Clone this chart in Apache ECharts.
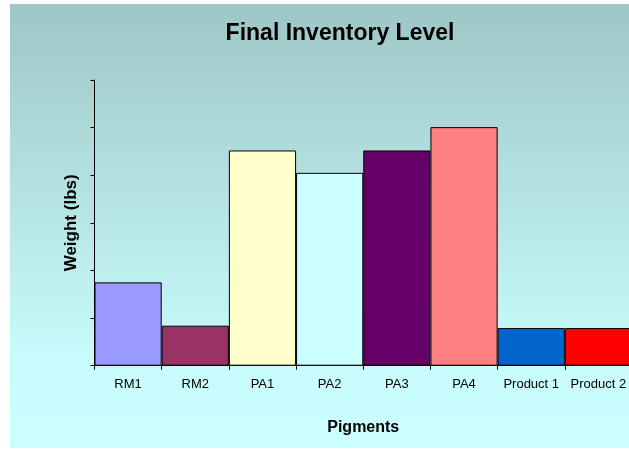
<!DOCTYPE html>
<html>
<head>
<meta charset="utf-8">
<style>
  html, body { margin: 0; padding: 0; background: #ffffff; overflow: hidden; }
  /* the plot runs slightly past the right edge of the window, so the last bar is cut off */
  #chart { width: 632px; height: 449px; }
</style>
<script src="https://cdn.jsdelivr.net/npm/echarts@6/dist/echarts.min.js"></script>
</head>
<body>
<div id="chart"></div>
<script>
// Final inventory by pigment / product
const categories = ['RM1', 'RM2', 'PA1', 'PA2', 'PA3', 'PA4', 'Product 1', 'Product 2'];
const weights = [875, 420, 2260, 2025, 2260, 2505, 395, 395];
const barColors = ['#9999FF', '#993366', '#FFFFCC', '#CCFFFF', '#660066', '#FF8080', '#0066CC', '#FF0000'];
const yMax = 3000;
const yStep = 500;

const chart = echarts.init(document.getElementById('chart'), null, { renderer: 'canvas' });

const font = 'Arial, "Liberation Sans", sans-serif';

chart.setOption({
  animation: false,
  backgroundColor: '#ffffff',
  graphic: [{
    type: 'rect',
    z: -10,
    silent: true,
    shape: { x: 10, y: 4, width: 640, height: 444 },
    style: {
      fill: new echarts.graphic.LinearGradient(0, 0, 0, 1, [
        { offset: 0, color: '#9ec6c6' },
        { offset: 0.8, color: '#c8fbfb' },
        { offset: 1, color: '#ccffff' }
      ])
    }
  }],
  title: {
    text: 'Final Inventory Level',
    left: 335,
    top: 17,
    textAlign: 'center',
    textStyle: { fontFamily: font, fontSize: 23, fontWeight: 'bold', color: '#000000' }
  },
  grid: { left: 94.5, top: 80, right: 0, height: 285.7, containLabel: false },
  xAxis: {
    type: 'category',
    data: categories,
    name: 'Pigments',
    nameLocation: 'middle',
    nameGap: 54,
    nameTextStyle: { fontFamily: font, fontSize: 16, fontWeight: 'bold', color: '#000000' },
    axisLine: { lineStyle: { color: '#000000', width: 1 } },
    axisTick: { show: true, length: 4, alignWithLabel: false, lineStyle: { color: '#000000' } },
    axisLabel: { fontFamily: font, fontSize: 13, color: '#000000', margin: 12, interval: 0 },
    splitLine: { show: false }
  },
  yAxis: {
    type: 'value',
    min: 0,
    max: yMax,
    interval: yStep,
    name: 'Weight (lbs)',
    nameLocation: 'middle',
    nameGap: 15,
    nameRotate: 90,
    nameTextStyle: { fontFamily: font, fontSize: 17, fontWeight: 'bold', color: '#000000' },
    axisLine: { show: true, lineStyle: { color: '#000000', width: 1 } },
    axisTick: { show: true, length: 4, lineStyle: { color: '#000000' } },
    axisLabel: { show: false },
    splitLine: { show: false }
  },
  series: [{
    type: 'bar',
    barWidth: '100%',
    data: weights.map((v, i) => ({
      value: v,
      itemStyle: { color: barColors[i], borderColor: '#000000', borderWidth: 1 }
    }))
  }]
});
</script>
</body>
</html>
